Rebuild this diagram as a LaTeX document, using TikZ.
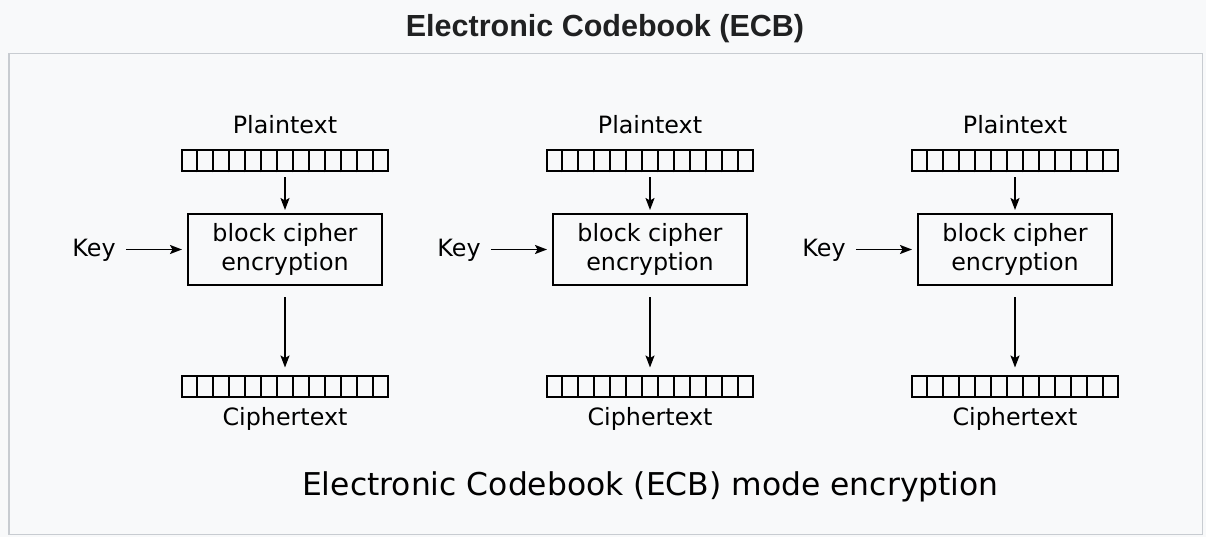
\documentclass[tikz,border=0pt]{standalone}
\usepackage{fontspec}
\setmainfont{DejaVu Sans}
\newfontfamily\titlefont{Liberation Sans}
\usetikzlibrary{arrows.meta,calc}
\definecolor{pagebg}{HTML}{F8F9FA}
\definecolor{framec}{HTML}{C8CCD1}
\definecolor{titlec}{HTML}{202122}
\begin{document}
\begin{tikzpicture}[x=1pt,y=-1pt,
  lbl/.style={font=\fontsize{23.8}{28}\selectfont, inner sep=0pt, anchor=base},
  cipherbox/.style={draw, line width=2pt, minimum width=194pt, minimum height=71pt, inner sep=0pt, align=center, font=\fontsize{23.8}{28.3}\selectfont},
  blockstrip/.style={draw, line width=2pt, minimum width=206pt, minimum height=21pt, inner sep=0pt},
  arr/.style={line width=1.8pt, -{Stealth[length=12pt,width=9pt,inset=2.5pt]}}
]
\useasboundingbox (0,0) rectangle (1206,537);
\fill[pagebg] (0,0) rectangle (1206,537);
\draw[framec, line width=1.5pt, fill=pagebg] (8.75,53.75) rectangle (1202.5,534.5);
\node[font=\titlefont\bfseries\fontsize{30.5}{36}\selectfont, text=titlec, inner sep=0pt, anchor=base] (title) at (605,37) {Electronic Codebook (ECB)};
\foreach \i/\cx in {1/285,2/650,3/1015} {
  \node[lbl] (pt\i) at (\cx,134) {Plaintext};
  \node[blockstrip] (ps\i) at (\cx,161) {};
  \foreach \k in {1,...,12} {
    \draw[line width=2pt] ($(ps\i.south west)!\k/13!(ps\i.south east)$) -- ($(ps\i.north west)!\k/13!(ps\i.north east)$);
  }
  \node[cipherbox] (bc\i) at (\cx,249.5) {block cipher\\encryption};
  \node[lbl] (key\i) at (\cx-191,256.7) {Key};
  \node[blockstrip] (cs\i) at (\cx,386) {};
  \foreach \k in {1,...,12} {
    \draw[line width=2pt] ($(cs\i.south west)!\k/13!(cs\i.south east)$) -- ($(cs\i.north west)!\k/13!(cs\i.north east)$);
  }
  \node[lbl] (ct\i) at (\cx,425) {Ciphertext};
  \draw[arr] ([yshift=-5pt]ps\i.south) -- ([yshift=3pt]bc\i.north);
  \draw[arr] ([yshift=-11pt]bc\i.south) -- ([yshift=7pt]cs\i.north);
  \draw[arr] ([xshift=10pt]key\i.east |- bc\i.west) -- ([xshift=-5pt]bc\i.west);
}
\node[font=\fontsize{31.4}{36}\selectfont, inner sep=0pt, anchor=base] (caption) at (650.4,495) {Electronic Codebook (ECB) mode encryption};
\end{tikzpicture}
\end{document}
